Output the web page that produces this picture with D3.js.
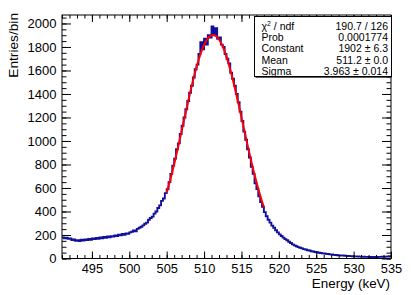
<!DOCTYPE html>
<html><head><meta charset="utf-8">
<script src="https://cdn.jsdelivr.net/npm/d3@7"></script>
<style>
html,body{margin:0;padding:0;background:#fff;}
svg{display:block;font-family:"Liberation Sans",Arial,Helvetica,sans-serif;}
</style></head>
<body>
<script>
// Histogram: 0.25 keV bins from 491 to 535 keV
const binLow = 491;
const binWidth = 0.25;
const counts = [
180,172,176,168,170,158,162,150,155,148,160,152,163,158,166,160,170,165,174,168,
180,172,183,176,188,180,190,186,196,190,203,197,208,202,214,210,222,228,238,232,
252,262,270,282,296,305,330,345,356,382,400,430,452,490,510,556,590,650,720,790,
850,930,980,1060,1130,1200,1270,1340,1410,1470,1540,1610,1650,1740,1840,1780,1870,1820,1900,1880,
1975,1900,1960,1870,1880,1820,1800,1740,1700,1660,1580,1530,1470,1400,1330,1250,1170,1080,1010,930,
860,780,720,640,590,530,480,440,395,360,330,305,280,262,240,222,205,192,178,165,
155,142,132,120,112,104,97,92,86,80,76,70,68,62,60,55,53,49,47,44,
42,39,38,35,34,31,30,28,27,26,25,23,22,21,20,19,18,18,17,16,
15,15,14,14,13,14,13,14,13,14,14,15,15,16,17,19
];
// Gaussian fit parameters and fit range
const fitParams = {constant:1902, mean:511.2, sigma:3.963};
const fitRange = [505, 518];
// Axis ticks
const xMajorTicks = [495,500,505,510,515,520,525,530,535];
const yMajorTicks = [0,200,400,600,800,1000,1200,1400,1600,1800,2000];
// Stats box rows
const statLabels = ["χ2 / ndf","Prob","Constant","Mean","Sigma"];
const statValues = ["190.7 / 126","0.0001774","1902 ± 6.3","511.2 ± 0.0","3.963 ± 0.014"];

const W=411,H=295;
const L=62,R=391,T=15,B=258.5;
const svg=d3.select("body").append("svg").attr("width",W).attr("height",H);
const x=d3.scaleLinear().domain([491,535]).range([L,R]);
const y=d3.scaleLinear().domain([0,2072]).range([B,T]);

// histogram step path
const pts=[];
counts.forEach((c,i)=>{
  const x0=binLow+i*binWidth, x1=x0+binWidth;
  pts.push([x0,c]);pts.push([x1,c]);
});
const line=d3.line().x(d=>x(d[0])).y(d=>y(d[1]));
svg.append("clipPath").attr("id","c").append("rect").attr("x",L).attr("y",T).attr("width",R-L).attr("height",B-T);
svg.append("path").datum(pts).attr("d",line).attr("fill","none")
  .attr("stroke","#10109c").attr("stroke-width",1.9).attr("clip-path","url(#c)");

// fit curve
const fitPts=d3.range(fitRange[0],fitRange[1]+0.0001,0.05).map(v=>[v,fitParams.constant*Math.exp(-Math.pow(v-fitParams.mean,2)/(2*fitParams.sigma*fitParams.sigma))]);
svg.append("path").datum(fitPts).attr("d",d3.line().x(d=>x(d[0])).y(d=>y(d[1])))
  .attr("fill","none").attr("stroke","#ff0000").attr("stroke-width",2);

// axes
const fs=13;
function styleAxis(g){g.select(".domain").remove();g.selectAll("line").attr("stroke","#000");}
const xMinor=d3.range(491,536,1);
const yMinor=d3.range(0,2051,50);
svg.append("g").attr("transform",`translate(0,${B})`)
  .call(d3.axisBottom(x).tickValues(xMajorTicks).tickSize(-7).tickPadding(5.5).tickFormat(d3.format("d")))
  .call(styleAxis).call(g=>g.selectAll("text").attr("font-size",12.8).attr("font-family","Liberation Sans").attr("fill","#000"));
svg.append("g").attr("transform",`translate(0,${B})`)
  .call(d3.axisBottom(x).tickValues(xMinor).tickSize(-3.5).tickFormat("")).call(styleAxis);
svg.append("g").attr("transform",`translate(0,${T})`)
  .call(d3.axisTop(x).tickValues(xMajorTicks).tickSize(-7).tickFormat("")).call(styleAxis);
svg.append("g").attr("transform",`translate(0,${T})`)
  .call(d3.axisTop(x).tickValues(xMinor).tickSize(-3.5).tickFormat("")).call(styleAxis);
svg.append("g").attr("transform",`translate(${L},0)`)
  .call(d3.axisLeft(y).tickValues(yMajorTicks).tickSize(-9).tickPadding(5).tickFormat(d3.format("d")))
  .call(styleAxis).call(g=>g.selectAll("text").attr("font-size",fs).attr("font-family","Liberation Sans").attr("fill","#000").attr("dx","-0.5"));
svg.append("g").attr("transform",`translate(${L},0)`)
  .call(d3.axisLeft(y).tickValues(yMinor).tickSize(-4.5).tickFormat("")).call(styleAxis);
svg.append("g").attr("transform",`translate(${R},0)`)
  .call(d3.axisRight(y).tickValues(yMajorTicks).tickSize(-9).tickFormat("")).call(styleAxis);
svg.append("g").attr("transform",`translate(${R},0)`)
  .call(d3.axisRight(y).tickValues(yMinor).tickSize(-4.5).tickFormat("")).call(styleAxis);

// frame
svg.append("rect").attr("x",L).attr("y",T).attr("width",R-L).attr("height",B-T)
  .attr("fill","none").attr("stroke","#000").attr("stroke-width",1);

// axis titles
svg.append("text").attr("x",390).attr("y",288).attr("text-anchor","end")
  .attr("font-size",13.4).text("Energy (keV)");
svg.append("text").attr("transform","translate(18,13) rotate(-90)").attr("text-anchor","end")
  .attr("font-size",13.7).text("Entries/bin");

// stats box
const bx=254.5,by=16.5,bw=137,bh=60;
svg.append("rect").attr("x",bx).attr("y",by).attr("width",bw).attr("height",bh)
  .attr("fill","#fff").attr("stroke","#000").attr("stroke-width",1);
svg.append("line").attr("x1",bx+1).attr("x2",bx+bw).attr("y1",by+bh+0.8).attr("y2",by+bh+0.8).attr("stroke","#000").attr("stroke-width",0.8);
const sfs=10.5;
statLabels.forEach((lab,i)=>{
  const yy=29.5+i*11.4;
  const t=svg.append("text").attr("x",261.5).attr("y",yy).attr("font-size",sfs);
  if(i===0){
    t.append("tspan").text("χ");
    t.append("tspan").attr("font-size",7).attr("dy",-4).text("2");
    t.append("tspan").attr("dy",4).text(" / ndf");
  } else t.text(lab);
  svg.append("text").attr("x",388).attr("y",yy).attr("text-anchor","end").attr("font-size",sfs).text(statValues[i]);
});
</script>
</body></html>
